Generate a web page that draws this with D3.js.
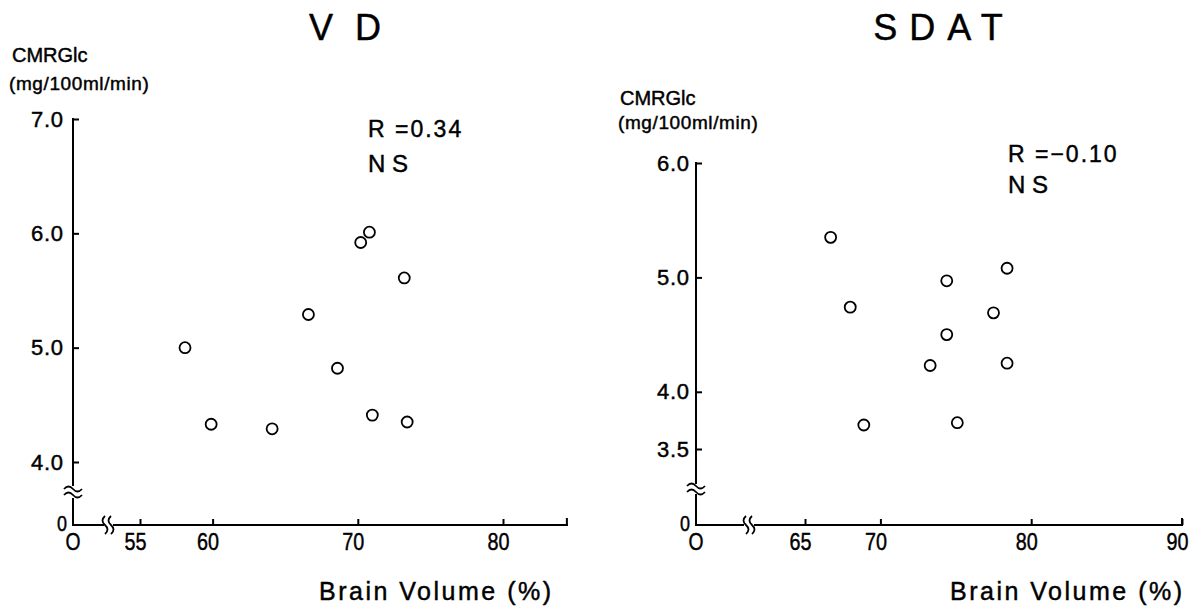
<!DOCTYPE html>
<html>
<head>
<meta charset="utf-8">
<script src="https://cdn.jsdelivr.net/npm/d3@7"></script>
<style>
  body { margin: 0; background: #fff; }
  svg { display: block; }
  text { fill: #000; stroke: #000; stroke-width: 0.45px; }
</style>
</head>
<body>
<script>
// VD panel: brain volume (%) vs CMRGlc
var vdVolume = [58.1, 59.9, 64.1, 66.6, 68.6, 70.2, 70.8, 71.0, 73.2, 73.4];
var vdCmrglc = [5.00, 4.33, 4.29, 5.29, 4.82, 5.92, 6.01, 4.41, 5.61, 4.35];
var vdXTicks = [55, 60, 70, 80];
var vdYTicks = [4.0, 5.0, 6.0, 7.0];

// SDAT panel
var sdatVolume = [66.7, 74.4, 78.4, 68.0, 77.5, 74.4, 73.3, 78.4, 68.9, 75.1];
var sdatCmrglc = [5.35, 4.97, 5.08, 4.74, 4.69, 4.50, 4.23, 4.25, 3.71, 3.73];
var sdatXTicks = [65, 70, 80, 90];
var sdatYTicks = [3.5, 4.0, 5.0, 6.0];

var titles = ["V D", "SDAT"];
var rValues = ["R =0.34", "R =\u22120.10"];
var sigLabels = ["N S", "N S"];
var yLabel = "CMRGlc";
var yUnit = "(mg/100ml/min)";
var xLabel = "Brain Volume (%)";

var textFont = "'Liberation Sans', Arial, sans-serif";

var svg = d3.select("body").append("svg")
    .attr("width", 1196)
    .attr("height", 610);

var panels = [
    {
        volume: vdVolume, cmrglc: vdCmrglc, xTicks: vdXTicks, yTicks: vdYTicks,
        title: titles[0], r: rValues[0], sig: sigLabels[0],
        xDomain: [55, 80], xRange: [140, 503], xStart: 53.35, xEnd: 84.4,
        yDomain: [4, 7], yRange: [462, 119], yTop: 7,
        originX: 73, zeroY: 525,
        xBreak: 108, xBreakL: 103, xBreakR: 114,
        yBreak: 492, yBreakT: 485, yBreakB: 499,
        titleX: 348, titleSpacing: "6px", cmrX: 12, cmrY: 62, unitX: 9, unitY: 90,
        rX: 368, rY: 137, sigY: 172, xLabelX: 319, yPad: 10
    },
    {
        volume: sdatVolume, cmrglc: sdatCmrglc, xTicks: sdatXTicks, yTicks: sdatYTicks,
        title: titles[1], r: rValues[1], sig: sigLabels[1],
        xDomain: [65, 90], xRange: [805, 1182], xStart: 63.7, xEnd: 90,
        yDomain: [3.5, 6], yRange: [449, 163], yTop: 6,
        originX: 696, zeroY: 525,
        xBreak: 749, xBreakL: 743, xBreakR: 755,
        yBreak: 489, yBreakT: 483, yBreakB: 495,
        titleX: 944, titleSpacing: "12px", cmrX: 620, cmrY: 105, unitX: 618, unitY: 129,
        rX: 1008, rY: 162, sigY: 193, xLabelX: 950, yPad: 7
    }
];

panels.forEach(function (p) {
    var x = d3.scaleLinear().domain(p.xDomain).range(p.xRange);
    var y = d3.scaleLinear().domain(p.yDomain).range(p.yRange);
    var g = svg.append("g");

    // axis lines, broken near the origin
    var segs = [
        [p.originX, y(p.yTop), p.originX, p.yBreakT],
        [p.originX, p.yBreakB, p.originX, p.zeroY],
        [p.originX, p.zeroY, p.xBreakL, p.zeroY],
        [p.xBreakR, p.zeroY, x(p.xEnd), p.zeroY],
        [x(p.xEnd), p.zeroY, x(p.xEnd), p.zeroY - 6]
    ];
    g.selectAll("line.axisline")
        .data(segs)
        .enter()
        .append("line")
        .attr("class", "axisline")
        .attr("x1", function (d) { return d[0]; })
        .attr("y1", function (d) { return d[1]; })
        .attr("x2", function (d) { return d[2]; })
        .attr("y2", function (d) { return d[3]; })
        .attr("stroke", "#000")
        .attr("stroke-width", 2)
        .attr("stroke-linecap", "square");

    // break marks: two waves across each axis
    [-3, 3].forEach(function (o) {
        var by = p.yBreak + o;
        g.append("path")
            .attr("d", "M" + (p.originX - 9) + "," + by + " q4.5,-5 9,0 t9,0")
            .attr("fill", "none")
            .attr("stroke", "#000")
            .attr("stroke-width", 1.8);
        var bx = p.xBreak + o;
        g.append("path")
            .attr("d", "M" + bx + "," + (p.zeroY - 9) + " q-5,4.5 0,9 t0,9")
            .attr("fill", "none")
            .attr("stroke", "#000")
            .attr("stroke-width", 1.8);
    });

    // y ticks point inward
    var yAxis = g.append("g")
        .attr("transform", "translate(" + p.originX + ",0)")
        .call(d3.axisLeft(y)
            .tickValues(p.yTicks)
            .tickSizeInner(-6)
            .tickSizeOuter(0)
            .tickPadding(p.yPad)
            .tickFormat(d3.format(".1f")));
    yAxis.select(".domain").remove();
    yAxis.selectAll(".tick line").attr("stroke-width", 2);
    yAxis.selectAll(".tick text")
        .style("font-family", textFont)
        .style("font-size", "22px")
        .attr("textLength", 32)
        .attr("lengthAdjust", "spacing");

    var xAxis = g.append("g")
        .attr("transform", "translate(0," + p.zeroY + ")")
        .call(d3.axisBottom(x)
            .tickValues(p.xTicks)
            .tickSizeInner(-6)
            .tickSizeOuter(0)
            .tickPadding(8)
            .tickFormat(d3.format("d")));
    xAxis.select(".domain").remove();
    xAxis.selectAll(".tick line").attr("stroke-width", 2);
    xAxis.selectAll(".tick text")
        .attr("x", -5)
        .style("font-family", textFont)
        .style("font-size", "24px")
        .attr("textLength", 22)
        .attr("lengthAdjust", "spacingAndGlyphs");

    // zeros at the origin
    g.append("text")
        .attr("x", p.originX - 6)
        .attr("y", p.zeroY + 6)
        .attr("text-anchor", "end")
        .style("font-family", textFont)
        .style("font-size", "22px")
        .attr("textLength", 10)
        .attr("lengthAdjust", "spacingAndGlyphs")
        .text("0");
    g.append("text")
        .attr("x", p.originX)
        .attr("y", p.zeroY + 25)
        .attr("text-anchor", "middle")
        .style("font-family", textFont)
        .style("font-size", "24px")
        .attr("textLength", 15)
        .attr("lengthAdjust", "spacingAndGlyphs")
        .text("O");

    // points
    g.selectAll("circle")
        .data(p.volume)
        .enter()
        .append("circle")
        .attr("cx", function (d) { return x(d); })
        .attr("cy", function (d, i) { return y(p.cmrglc[i]); })
        .attr("r", 5.5)
        .attr("fill", "none")
        .attr("stroke", "#000")
        .attr("stroke-width", 1.8);

    // labels
    g.append("text")
        .attr("x", p.titleX)
        .attr("y", 40)
        .attr("text-anchor", "middle")
        .style("font-family", textFont)
        .style("font-size", "36px")
        .style("letter-spacing", p.titleSpacing)
        .text(p.title);
    g.append("text")
        .attr("x", p.cmrX)
        .attr("y", p.cmrY)
        .style("font-family", textFont)
        .style("font-size", "20px")
        .text(yLabel);
    g.append("text")
        .attr("x", p.unitX)
        .attr("y", p.unitY)
        .style("font-family", textFont)
        .style("font-size", "19px")
        .style("letter-spacing", "0.6px")
        .text(yUnit);
    g.append("text")
        .attr("x", p.rX)
        .attr("y", p.rY)
        .style("font-family", textFont)
        .style("font-size", "23px")
        .style("letter-spacing", "2px")
        .text(p.r);
    g.append("text")
        .attr("x", p.rX)
        .attr("y", p.sigY)
        .style("font-family", textFont)
        .style("font-size", "24px")
        .text(p.sig);
    g.append("text")
        .attr("x", p.xLabelX)
        .attr("y", 600)
        .style("font-family", textFont)
        .style("font-size", "25px")
        .style("letter-spacing", "2.5px")
        .text(xLabel);
});
</script>
</body>
</html>
